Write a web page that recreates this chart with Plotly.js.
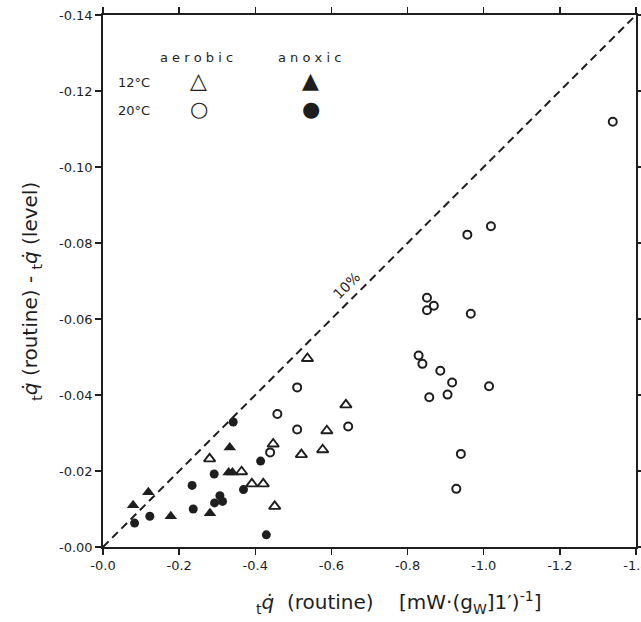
<!DOCTYPE html>
<html>
<head>
<meta charset="utf-8">
<script src="https://cdn.plot.ly/plotly-3.0.1.min.js"></script>
<style>html,body{margin:0;padding:0;background:#fff;}#chart{width:641px;height:622px;}</style>
</head>
<body>
<div id="chart"></div>
<script>
// 12 °C aerobic (open triangles)
const aer12X = [-0.280, -0.364, -0.391, -0.421, -0.451, -0.447, -0.537, -0.521, -0.577, -0.588, -0.638];
const aer12Y = [-0.0232, -0.0198, -0.0166, -0.0166, -0.0107, -0.0271, -0.0496, -0.0243, -0.0256, -0.0306, -0.0374];
// 12 °C anoxic (filled triangles)
const anox12X = [-0.079, -0.119, -0.178, -0.281, -0.333, -0.330, -0.340];
const anox12Y = [-0.0110, -0.0144, -0.0081, -0.0089, -0.0262, -0.0196, -0.0196];
// 20 °C aerobic (open circles)
const aer20X = [-0.439, -0.458, -0.510, -0.510, -0.644, -0.829, -0.839, -0.851, -0.851, -0.869, -0.857, -0.886, -0.905, -0.917, -0.928, -0.940, -0.957, -0.966, -1.014, -1.019, -1.339];
const aer20Y = [-0.0249, -0.0350, -0.0420, -0.0309, -0.0317, -0.0504, -0.0482, -0.0656, -0.0623, -0.0635, -0.0394, -0.0464, -0.0401, -0.0433, -0.0153, -0.0245, -0.0822, -0.0614, -0.0423, -0.0844, -0.1119];
// 20 °C anoxic (filled circles)
const anox20X = [-0.083, -0.123, -0.234, -0.237, -0.292, -0.293, -0.307, -0.314, -0.342, -0.369, -0.414, -0.429];
const anox20Y = [-0.0063, -0.0081, -0.0162, -0.0100, -0.0192, -0.0116, -0.0135, -0.0120, -0.0329, -0.0151, -0.0226, -0.0032];
// 10 % reference line
const refX = [0, -1.4];
const refY = [0, -0.14];

const xTickVals = [0, -0.2, -0.4, -0.6, -0.8, -1.0, -1.2, -1.4];
const xTickText = ['-0.0', '-0.2', '-0.4', '-0.6', '-0.8', '-1.0', '-1.2', '-1.4'];
const yTickVals = [0, -0.02, -0.04, -0.06, -0.08, -0.10, -0.12, -0.14];
const yTickText = ['-0.00', '-0.02', '-0.04', '-0.06', '-0.08', '-0.10', '-0.12', '-0.14'];

const ink = '#1e1e1e';
const traces = [
  {x: refX, y: refY, mode: 'lines', line: {color: ink, width: 2, dash: '8px,5px'}, hoverinfo: 'skip'},
  {x: aer12X, y: aer12Y, mode: 'markers', marker: {symbol: 'triangle-up-open', size: 10, color: ink, line: {width: 1.9}}},
  {x: anox12X, y: anox12Y, mode: 'markers', marker: {symbol: 'triangle-up', size: 11, color: ink}},
  {x: aer20X, y: aer20Y, mode: 'markers', marker: {symbol: 'circle-open', size: 8, color: ink, line: {width: 2}}},
  {x: anox20X, y: anox20Y, mode: 'markers', marker: {symbol: 'circle', size: 9, color: ink}}
];

const fam = 'DejaVu Sans, sans-serif';
function ann(text, x, y, size, extra) {
  return Object.assign({text: text, x: x, y: y, xref: 'paper', yref: 'paper', showarrow: false,
    xanchor: 'center', yanchor: 'middle', font: {family: fam, size: size, color: ink}}, extra || {});
}

const layout = {
  width: 641, height: 622,
  margin: {l: 103, r: 5, t: 15, b: 75},
  paper_bgcolor: '#fff', plot_bgcolor: '#fff',
  showlegend: false,
  xaxis: {
    range: [0.00001, -1.40001], tickvals: xTickVals, ticktext: xTickText,
    showgrid: false, zeroline: false, showline: true, linecolor: ink, linewidth: 1.8,
    mirror: 'ticks', ticks: 'outside', ticklen: 6, tickwidth: 1.5, tickcolor: ink,
    ticklabeloverflow: 'allow',
    tickfont: {family: fam, size: 13, color: ink}
  },
  yaxis: {
    range: [0.000001, -0.140001], tickvals: yTickVals, ticktext: yTickText,
    showgrid: false, zeroline: false, showline: true, linecolor: ink, linewidth: 1.8,
    mirror: 'ticks', ticks: 'outside', ticklen: 6, tickwidth: 1.5, tickcolor: ink,
    ticklabeloverflow: 'allow',
    tickfont: {family: fam, size: 13, color: ink}
  },
  annotations: [
    ann('a e r o b i c', 0.1745, 0.921, 13),
    ann('a n o x i c', 0.388, 0.921, 13),
    ann('12°C', 0.058, 0.874, 13),
    ann('20°C', 0.058, 0.821, 13),
    ann('△', 0.180, 0.876, 22),
    ann('▲', 0.390, 0.876, 22),
    ann('○', 0.180, 0.823, 21),
    ann('●', 0.390, 0.823, 21),
    ann('10%', 0.456, 0.491, 14, {textangle: -45}),
    ann('<sub>t</sub><i>q̇</i> (routine) - <sub>t</sub><i>q̇</i> (level)', -0.135, 0.48, 20, {textangle: -90}),
    ann('<sub>t</sub><i>q̇</i>  (routine)    [mW·(g<sub>W</sub>]1′)<sup>-1</sup>]', 0.555, -0.105, 20)
  ]
};

Plotly.newPlot('chart', traces, layout, {displayModeBar: false, staticPlot: true});
</script>
</body>
</html>
